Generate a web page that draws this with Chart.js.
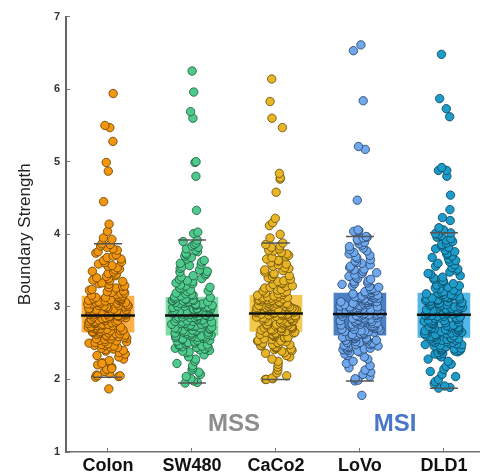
<!DOCTYPE html>
<html>
<head>
<meta charset="utf-8">
<script src="https://cdn.jsdelivr.net/npm/chart.js@4/dist/chart.umd.min.js"></script>
<style>
  html, body { margin: 0; padding: 0; background: #fff; }
</style>
</head>
<body>
<canvas id="chart" width="480" height="476"></canvas>
<script>
const categories = ["Colon", "SW480", "CaCo2", "LoVo", "DLD1"];
const yTicks = [1, 2, 3, 4, 5, 6, 7];

// box summary
const q1 = [2.65, 2.61, 2.66, 2.61, 2.58];
const medians = [2.88, 2.88, 2.91, 2.90, 2.89];
const q3 = [3.15, 3.13, 3.16, 3.19, 3.19];
const whiskerLow = [2.03, 1.95, 2.00, 1.98, 1.88];
const whiskerHigh = [3.87, 3.92, 3.88, 3.97, 4.02];

// individual points (estimated from the clouds, lowest to highest, then the stray ones)
const colonVals = [
  2.03, 2.04, 2.06, 2.08, 2.11, 2.14, 2.17, 2.20, 2.23, 2.26, 2.28, 2.31, 2.33, 2.35, 2.37, 2.39,
  2.40, 2.41, 2.42, 2.43, 2.44, 2.45, 2.46, 2.47, 2.47, 2.48, 2.49, 2.50, 2.51, 2.52, 2.52, 2.53,
  2.54, 2.55, 2.56, 2.56, 2.57, 2.58, 2.59, 2.59, 2.60, 2.61, 2.61, 2.62, 2.63, 2.63, 2.64, 2.64,
  2.65, 2.65, 2.66, 2.66, 2.67, 2.67, 2.68, 2.68, 2.69, 2.69, 2.70, 2.70, 2.71, 2.71, 2.72, 2.72,
  2.73, 2.73, 2.74, 2.74, 2.75, 2.75, 2.76, 2.76, 2.77, 2.77, 2.78, 2.78, 2.79, 2.79, 2.80, 2.80,
  2.81, 2.81, 2.82, 2.82, 2.83, 2.83, 2.84, 2.84, 2.85, 2.85, 2.86, 2.86, 2.87, 2.87, 2.88, 2.88,
  2.89, 2.89, 2.90, 2.90, 2.91, 2.91, 2.92, 2.92, 2.93, 2.93, 2.94, 2.95, 2.95, 2.96, 2.96, 2.97,
  2.97, 2.98, 2.98, 2.99, 3.00, 3.00, 3.01, 3.01, 3.02, 3.02, 3.03, 3.04, 3.04, 3.05, 3.05, 3.06,
  3.06, 3.07, 3.08, 3.08, 3.09, 3.09, 3.10, 3.10, 3.11, 3.12, 3.12, 3.13, 3.13, 3.14, 3.14, 3.15,
  3.16, 3.17, 3.18, 3.19, 3.20, 3.21, 3.22, 3.23, 3.24, 3.26, 3.27, 3.28, 3.29, 3.31, 3.32, 3.33,
  3.35, 3.36, 3.37, 3.39, 3.40, 3.42, 3.43, 3.45, 3.46, 3.48, 3.49, 3.51, 3.52, 3.54, 3.56, 3.57,
  3.59, 3.61, 3.62, 3.64, 3.66, 3.68, 3.70, 3.72, 3.74, 3.76, 3.78, 3.80, 3.82, 3.84, 3.86, 3.87,
  1.87, 2.05, 2.05, 2.15, 2.22, 3.93, 3.95, 4.04, 4.14, 4.45, 4.87, 4.99, 5.28, 5.47, 5.50, 5.94];
const sw480Vals = [
  1.95, 1.96, 1.98, 2.01, 2.04, 2.07, 2.10, 2.13, 2.16, 2.19, 2.22, 2.25, 2.28, 2.31, 2.34, 2.37,
  2.38, 2.39, 2.40, 2.41, 2.42, 2.42, 2.43, 2.44, 2.45, 2.45, 2.46, 2.47, 2.48, 2.48, 2.49, 2.50,
  2.51, 2.51, 2.52, 2.53, 2.54, 2.54, 2.55, 2.56, 2.57, 2.57, 2.58, 2.58, 2.59, 2.59, 2.60, 2.60,
  2.61, 2.61, 2.62, 2.62, 2.63, 2.64, 2.64, 2.65, 2.65, 2.66, 2.67, 2.67, 2.68, 2.68, 2.69, 2.70,
  2.70, 2.71, 2.71, 2.72, 2.73, 2.73, 2.74, 2.74, 2.75, 2.76, 2.76, 2.77, 2.77, 2.78, 2.79, 2.79,
  2.80, 2.80, 2.81, 2.82, 2.82, 2.83, 2.83, 2.84, 2.85, 2.85, 2.86, 2.86, 2.87, 2.87, 2.88, 2.88,
  2.89, 2.89, 2.90, 2.90, 2.91, 2.91, 2.92, 2.92, 2.93, 2.93, 2.94, 2.94, 2.95, 2.95, 2.96, 2.96,
  2.97, 2.97, 2.98, 2.98, 2.99, 2.99, 3.00, 3.00, 3.01, 3.01, 3.02, 3.02, 3.03, 3.03, 3.04, 3.04,
  3.05, 3.05, 3.06, 3.06, 3.07, 3.07, 3.08, 3.08, 3.09, 3.09, 3.10, 3.10, 3.11, 3.11, 3.12, 3.13,
  3.14, 3.15, 3.16, 3.17, 3.18, 3.19, 3.21, 3.22, 3.23, 3.25, 3.26, 3.27, 3.29, 3.30, 3.32, 3.33,
  3.35, 3.36, 3.38, 3.39, 3.41, 3.43, 3.44, 3.46, 3.48, 3.49, 3.51, 3.53, 3.55, 3.57, 3.58, 3.60,
  3.62, 3.64, 3.66, 3.68, 3.70, 3.72, 3.74, 3.76, 3.78, 3.80, 3.82, 3.84, 3.86, 3.88, 3.90, 3.92,
  4.01, 4.03, 4.33, 4.80, 4.99, 5.00, 5.60, 5.69, 5.96, 6.25];
const caco2Vals = [
  2.00, 2.00, 2.01, 2.02, 2.05, 2.09, 2.13, 2.17, 2.21, 2.25, 2.28, 2.31, 2.33, 2.36, 2.37, 2.39,
  2.40, 2.41, 2.42, 2.43, 2.44, 2.45, 2.46, 2.47, 2.48, 2.48, 2.49, 2.50, 2.51, 2.52, 2.53, 2.53,
  2.54, 2.55, 2.56, 2.57, 2.58, 2.58, 2.59, 2.60, 2.61, 2.62, 2.62, 2.63, 2.64, 2.64, 2.65, 2.65,
  2.66, 2.66, 2.67, 2.67, 2.68, 2.68, 2.69, 2.70, 2.70, 2.71, 2.71, 2.72, 2.72, 2.73, 2.74, 2.74,
  2.75, 2.75, 2.76, 2.76, 2.77, 2.78, 2.78, 2.79, 2.79, 2.80, 2.80, 2.81, 2.82, 2.82, 2.83, 2.83,
  2.84, 2.84, 2.85, 2.86, 2.86, 2.87, 2.87, 2.88, 2.88, 2.89, 2.89, 2.90, 2.90, 2.90, 2.91, 2.91,
  2.92, 2.92, 2.93, 2.93, 2.94, 2.94, 2.95, 2.95, 2.96, 2.96, 2.97, 2.97, 2.98, 2.98, 2.99, 2.99,
  3.00, 3.00, 3.01, 3.01, 3.02, 3.02, 3.03, 3.03, 3.04, 3.04, 3.05, 3.05, 3.06, 3.06, 3.07, 3.07,
  3.08, 3.08, 3.09, 3.09, 3.10, 3.10, 3.11, 3.11, 3.12, 3.12, 3.13, 3.13, 3.14, 3.14, 3.15, 3.16,
  3.17, 3.18, 3.19, 3.20, 3.21, 3.22, 3.23, 3.24, 3.26, 3.27, 3.28, 3.29, 3.31, 3.32, 3.33, 3.35,
  3.36, 3.38, 3.39, 3.40, 3.42, 3.43, 3.45, 3.46, 3.48, 3.50, 3.51, 3.53, 3.54, 3.56, 3.58, 3.59,
  3.61, 3.63, 3.64, 3.66, 3.68, 3.69, 3.71, 3.73, 3.75, 3.77, 3.78, 3.80, 3.82, 3.84, 3.86, 3.88,
  3.95, 4.00, 4.12, 4.16, 4.22, 4.58, 4.76, 4.78, 4.84, 5.47, 5.60, 5.83, 6.14];
const lovoVals = [
  1.98, 1.99, 2.01, 2.04, 2.07, 2.10, 2.13, 2.16, 2.19, 2.22, 2.25, 2.28, 2.31, 2.33, 2.35, 2.37,
  2.38, 2.39, 2.40, 2.41, 2.42, 2.42, 2.43, 2.44, 2.45, 2.45, 2.46, 2.47, 2.48, 2.48, 2.49, 2.50,
  2.51, 2.51, 2.52, 2.53, 2.54, 2.54, 2.55, 2.56, 2.57, 2.57, 2.58, 2.58, 2.59, 2.59, 2.60, 2.60,
  2.61, 2.62, 2.62, 2.63, 2.64, 2.64, 2.65, 2.66, 2.66, 2.67, 2.67, 2.68, 2.69, 2.69, 2.70, 2.71,
  2.71, 2.72, 2.73, 2.73, 2.74, 2.74, 2.75, 2.76, 2.76, 2.77, 2.78, 2.78, 2.79, 2.80, 2.80, 2.81,
  2.81, 2.82, 2.83, 2.83, 2.84, 2.85, 2.85, 2.86, 2.87, 2.87, 2.88, 2.88, 2.89, 2.89, 2.90, 2.90,
  2.91, 2.91, 2.92, 2.92, 2.93, 2.94, 2.94, 2.95, 2.95, 2.96, 2.97, 2.97, 2.98, 2.98, 2.99, 3.00,
  3.00, 3.01, 3.01, 3.02, 3.03, 3.03, 3.04, 3.04, 3.05, 3.06, 3.06, 3.07, 3.07, 3.08, 3.09, 3.09,
  3.10, 3.10, 3.11, 3.12, 3.12, 3.13, 3.13, 3.14, 3.15, 3.15, 3.16, 3.16, 3.17, 3.18, 3.18, 3.19,
  3.20, 3.21, 3.22, 3.23, 3.24, 3.25, 3.27, 3.28, 3.29, 3.31, 3.32, 3.33, 3.35, 3.36, 3.38, 3.39,
  3.41, 3.42, 3.44, 3.46, 3.47, 3.49, 3.51, 3.52, 3.54, 3.56, 3.58, 3.60, 3.61, 3.63, 3.65, 3.67,
  3.69, 3.71, 3.73, 3.75, 3.77, 3.79, 3.81, 3.83, 3.85, 3.87, 3.89, 3.91, 3.93, 3.95, 3.96, 3.97,
  1.78, 4.04, 4.05, 4.06, 4.47, 5.17, 5.21, 5.84, 6.53, 6.61];
const dld1Vals = [
  1.88, 1.89, 1.91, 1.94, 1.97, 2.00, 2.04, 2.07, 2.11, 2.14, 2.18, 2.21, 2.25, 2.28, 2.31, 2.34,
  2.35, 2.36, 2.37, 2.38, 2.39, 2.39, 2.40, 2.41, 2.42, 2.42, 2.43, 2.44, 2.45, 2.45, 2.46, 2.47,
  2.48, 2.48, 2.49, 2.50, 2.51, 2.51, 2.52, 2.53, 2.54, 2.54, 2.55, 2.55, 2.56, 2.56, 2.57, 2.57,
  2.58, 2.59, 2.59, 2.60, 2.61, 2.61, 2.62, 2.63, 2.63, 2.64, 2.65, 2.65, 2.66, 2.67, 2.67, 2.68,
  2.69, 2.69, 2.70, 2.71, 2.71, 2.72, 2.73, 2.73, 2.74, 2.75, 2.75, 2.76, 2.77, 2.77, 2.78, 2.79,
  2.79, 2.80, 2.81, 2.81, 2.82, 2.83, 2.83, 2.84, 2.85, 2.85, 2.86, 2.87, 2.87, 2.88, 2.88, 2.89,
  2.90, 2.90, 2.91, 2.91, 2.92, 2.93, 2.93, 2.94, 2.95, 2.95, 2.96, 2.97, 2.97, 2.98, 2.98, 2.99,
  3.00, 3.00, 3.01, 3.02, 3.02, 3.03, 3.04, 3.04, 3.05, 3.05, 3.06, 3.07, 3.07, 3.08, 3.09, 3.09,
  3.10, 3.11, 3.11, 3.12, 3.12, 3.13, 3.14, 3.14, 3.15, 3.16, 3.16, 3.17, 3.17, 3.18, 3.18, 3.19,
  3.20, 3.21, 3.22, 3.23, 3.25, 3.26, 3.27, 3.29, 3.30, 3.32, 3.33, 3.35, 3.36, 3.38, 3.40, 3.41,
  3.43, 3.45, 3.46, 3.48, 3.50, 3.52, 3.54, 3.56, 3.58, 3.60, 3.62, 3.64, 3.66, 3.68, 3.70, 3.72,
  3.74, 3.76, 3.78, 3.80, 3.82, 3.84, 3.86, 3.88, 3.90, 3.92, 3.94, 3.96, 3.98, 4.00, 4.01, 4.02,
  4.06, 4.09, 4.19, 4.23, 4.34, 4.54, 4.80, 4.88, 4.88, 4.92, 5.62, 5.73, 5.87, 6.48];

const allVals = [colonVals, sw480Vals, caco2Vals, lovoVals, dld1Vals];

const pointColors = ["#f2960f", "#4fca8d", "#e8b527", "#6fa8ec", "#1d9bc9"];
const pointEdges = ["#6b4200", "#1f5e3e", "#6a5008", "#27466e", "#0a4660"];
const boxColors = ["#fdb045", "#7fdcaa", "#f4c84e", "#4c7fc6", "#52b6e6"];
const fontFamily = "'Liberation Sans', Arial, Helvetica, sans-serif";

// fixed sideways scatter so the cloud is visible (narrower towards the tails)
function spread(i, k) {
  const s = Math.sin(i * 12.9898 + k * 78.233) * 43758.5453;
  return (s - Math.floor(s)) * 2 - 1;
}

function jitter(vals, k) {
  return vals.map((v, i) => {
    const d = Math.abs(v - medians[k]);
    const inside = v >= whiskerLow[k] - 0.02 && v <= whiskerHigh[k] + 0.02;
    const w = inside ? 0.245 * (1 - 0.55 * Math.min(1, d) ** 2) : 0.08;
    return { x: k + spread(i, k) * w, y: v };
  });
}

const pointSets = allVals.map((vals, k) => ({
  type: "scatter",
  data: jitter(vals, k),
  backgroundColor: pointColors[k],
  borderColor: pointEdges[k],
  borderWidth: 0.85,
  pointRadius: 4.2,
  order: 2
}));

const groupLabels = {
  id: "groupLabels",
  afterDatasetsDraw(chart) {
    const { ctx, scales: { x, y } } = chart;
    ctx.save();
    ctx.font = "bold 24px " + fontFamily;
    ctx.textAlign = "center";
    ctx.textBaseline = "middle";
    ctx.fillStyle = "#8c8c8c";
    ctx.fillText("MSS", x.getPixelForValue(1.5), y.getPixelForValue(1.38));
    ctx.fillStyle = "#4a76c8";
    ctx.fillText("MSI", x.getPixelForValue(3.42), y.getPixelForValue(1.38));
    ctx.restore();
  }
};

new Chart(document.getElementById("chart"), {
  type: "scatter",
  data: {
    datasets: [
      {
        type: "bar",
        data: categories.map((c, i) => ({ x: i, y: [q1[i], q3[i]] })),
        backgroundColor: boxColors,
        barThickness: 52,
        order: 3
      },
      ...pointSets,
      {
        type: "scatter",
        data: medians.map((m, i) => ({ x: i, y: m })),
        pointStyle: "line",
        pointRadius: 27,
        borderColor: "#111",
        borderWidth: 2.5,
        order: 1
      },
      {
        type: "scatter",
        data: whiskerLow.map((w, i) => ({ x: i, y: w })).concat(whiskerHigh.map((w, i) => ({ x: i, y: w }))),
        pointStyle: "line",
        pointRadius: 14,
        borderColor: "#555",
        borderWidth: 1.5,
        order: 1
      }
    ]
  },
  options: {
    responsive: false,
    animation: false,
    events: [],
    devicePixelRatio: 1,
    layout: { autoPadding: false, padding: { top: 9, right: 0, left: 0, bottom: 0 } },
    plugins: { legend: { display: false }, tooltip: { enabled: false } },
    scales: {
      x: {
        type: "linear",
        offset: false,
        min: -0.5,
        max: 4.43,
        afterBuildTicks: s => { s.ticks = categories.map((c, i) => ({ value: i })); },
        afterFit: s => { s.height = 24; },
        grid: { display: true, offset: false, drawOnChartArea: false, drawTicks: true, tickLength: -4, color: "#777" },
        border: { color: "#707070", width: 1.5 },
        ticks: {
          callback: v => categories[v],
          color: "#111",
          font: { family: fontFamily, size: 18, weight: "bold" },
          padding: 7,
          maxRotation: 0,
          autoSkip: false
        }
      },
      y: {
        min: 1,
        max: 7,
        afterBuildTicks: s => { s.ticks = yTicks.map(v => ({ value: v })); },
        afterFit: s => { s.width = 66; },
        grid: { display: true, drawOnChartArea: false, drawTicks: true, tickLength: -4, color: "#777" },
        border: { color: "#666", width: 2 },
        ticks: {
          color: "#333",
          font: { family: fontFamily, size: 11, weight: "bold" },
          padding: 10
        },
        title: {
          display: true,
          text: "Boundary Strength",
          color: "#222",
          font: { family: fontFamily, size: 17 },
          padding: { top: 15, bottom: 0 }
        }
      }
    }
  },
  plugins: [groupLabels]
});
</script>
</body>
</html>
